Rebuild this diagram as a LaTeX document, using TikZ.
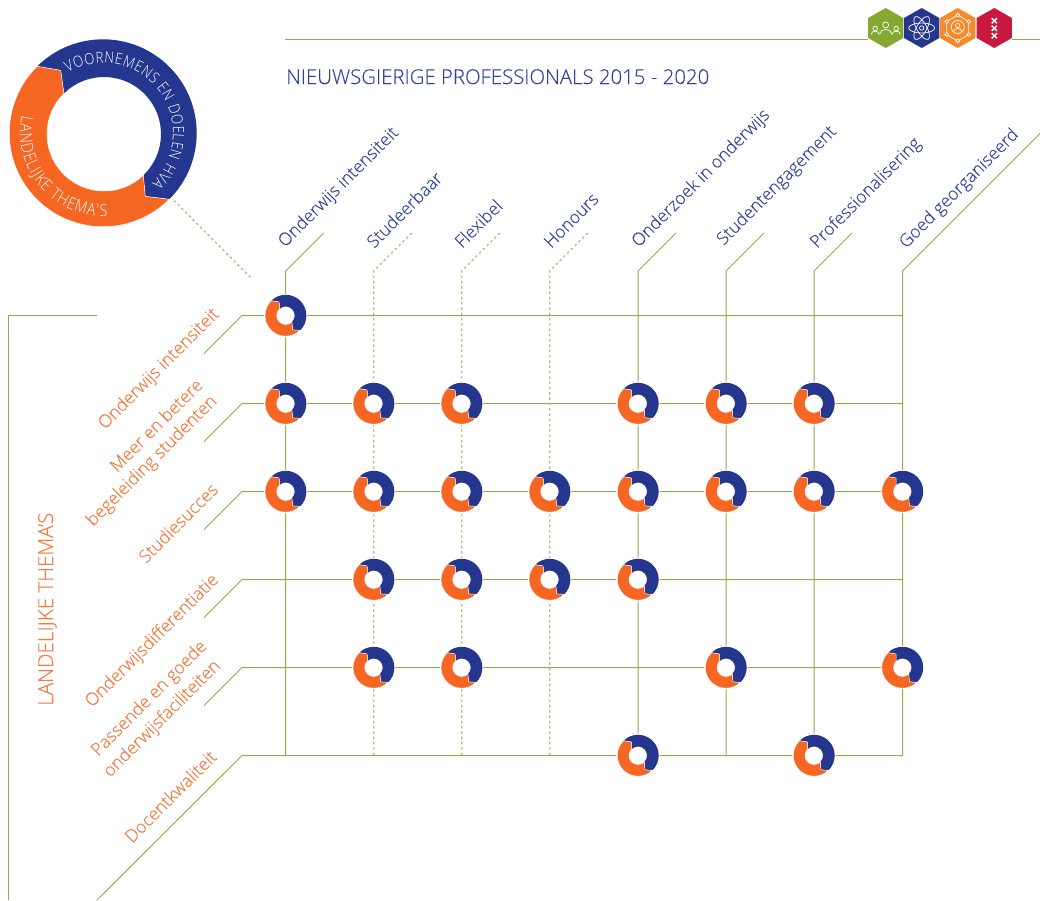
\documentclass[tikz,border=0pt]{standalone}
\usepackage{fontspec}
\setmainfont{Open Sans}[UprightFont={* Light},UprightFeatures={FakeBold=0.1}]
\newfontfamily\ringfont{Open Sans}[UprightFont={* Light},FakeStretch=0.86]
\usetikzlibrary{decorations.text,calc}
\definecolor{hblue}{HTML}{25368F}
\definecolor{horange}{HTML}{F56623}
\definecolor{lgreen}{HTML}{8FAF48}
\definecolor{dgreen}{HTML}{A6C06E}
\definecolor{tblue}{HTML}{34439A}
\definecolor{torange}{HTML}{F57A42}
\definecolor{hexgreen}{HTML}{85A832}
\definecolor{hexorange}{HTML}{F58A2B}
\definecolor{hexred}{HTML}{C8193F}
\tikzset{
  x=1pt,y=1pt,
  gridline/.style={draw=lgreen,line width=1pt},
  dotline/.style={draw=dgreen,line width=1.3pt,dash pattern=on 2.4pt off 2.9pt},
  collabel/.style={text=tblue,font=\fontsize{17.5}{17.5}\selectfont,rotate=45,anchor=base west,inner sep=0pt},
  rowlabel/.style={text=torange,font=\fontsize{17.6}{17.6}\selectfont,rotate=45,anchor=base west,inner sep=0pt},
  iconline/.style={draw=white,line width=.7pt},
  minidonut/.pic={
    \fill[white] (0,0) circle (21.6);
    \fill[hblue] (134:20.7) arc[start angle=134,end angle=-46,radius=20.7]
       -- (7,-14.3) -- (-46:9) arc[start angle=-46,end angle=134,radius=9]
       -- (-6.5,13.5) -- cycle;
    \fill[horange,draw=white,line width=.5pt] (134:20.7) arc[start angle=134,end angle=314,radius=20.7]
       -- (7,-14.3) -- (-46:9) arc[start angle=314,end angle=134,radius=9]
       -- (-6.5,13.5) -- cycle;
  }
}
\begin{document}
\begin{tikzpicture}
\useasboundingbox (0,0) rectangle (1040,-900);
% grid coordinates
\foreach \n/\xx in {1/285.7,2/373.7,3/461.7,4/549.7,5/638,6/726,7/814,8/902.5}{
  \coordinate (c\n) at (\xx,-271);
  \coordinate (ct\n) at (\xx+38,-233);
}
\coordinate (ct8) at (1040,-133.5);
\foreach \n/\yy in {1/315.5,2/403.5,3/491.5,4/579.5,5/667.5,6/755.5}{
  \coordinate (r\n) at (242,-\yy);
  \coordinate (rt\n) at (204,-\yy-38);
}
\coordinate (rt6) at (97,-900);
% top rule
\coordinate (ta) at (285,-39); \coordinate (tb) at (868,-39);
\coordinate (tc) at (1012,-39); \coordinate (td) at (1040,-39);
\draw[gridline] (ta) -- (tb) (tc) -- (td);
% left bracket
\coordinate (la) at (97,-315.5); \coordinate (lb) at (8.5,-315.5); \coordinate (lc) at (8.5,-900);
\draw[gridline] (la) -- (lb) -- (lc);
% rows
\foreach \n in {1,...,6}{ \draw[gridline] (rt\n) -- (r\n) -- (r\n -| c8); }
% columns
\foreach \n in {2,3,4}{ \draw[dotline] (ct\n) -- (c\n) -- (c\n |- r6); }
\foreach \n in {1,5,6,7,8}{ \draw[gridline] (ct\n) -- (c\n) -- (c\n |- r6); }
% big ring
\coordinate (ring) at (103,-133);
\coordinate (la1) at (174,-200.5); \coordinate (la2) at (252,-279);
\draw[dotline] (la1) -- (la2);
\begin{scope}[shift={(ring)}]
\fill[hblue] (134.6:93.7) arc[start angle=134.6,end angle=-45,radius=93.7]
  -- (42.3,-63.3) -- (40.3,-42.3) arc[start angle=-46.4,end angle=134.6,radius=57]
  -- (-42.3,62.7) -- cycle;
\fill[horange,draw=white,line width=.5pt] (134.6:93.7) arc[start angle=134.6,end angle=315,radius=93.7]
  -- (42.3,-63.3) -- (40.3,-42.3) arc[start angle=313.6,end angle=134.6,radius=57]
  -- (-42.3,62.7) -- cycle;
\path[decorate,decoration={text along path,text align=fit to path,
  text={|\ringfont\fontsize{15.4}{15.4}\selectfont\color{white}|VOORNEMENS EN DOELEN HVA}}]
  (120:70) arc[start angle=120,end angle=-46,radius=70];
\path[decorate,decoration={text along path,text align=fit to path,
  text={|\ringfont\fontsize{16.6}{16.6}\selectfont\color{white}|LANDELIJKE THEMA'S}}]
  (168:83) arc[start angle=168,end angle=273,radius=83];
\end{scope}
% title
\node[text=tblue,font=\fontsize{20.4}{20.4}\selectfont,anchor=base west,inner sep=0pt] (title) at (286,-84) {NIEUWSGIERIGE PROFESSIONALS 2015 - 2020};
% hexagons
\foreach \nm/\xx/\cc in {hg/885.7/hexgreen,hb/921.7/hblue,ho/957.7/hexorange,hr/994.3/hexred}{
  \fill[\cc] (\xx,-8) -- (\xx+17.6,-18) -- (\xx+17.6,-38) -- (\xx,-48) -- (\xx-17.6,-38) -- (\xx-17.6,-18) -- cycle;
}
% green icon: three persons
\begin{scope}[shift={(885.7,-28)},iconline]
  \draw (0,3) circle (3);
  \draw (-6,-6) .. controls (-6,0) and (6,0) .. (6,-6);
  \draw (-10.5,-0.5) circle (2.3);
  \draw (10.5,-0.5) circle (2.3);
  \draw (-14.5,-6.5) .. controls (-14.5,-2) and (-6.5,-2) .. (-6.5,-6.5);
  \draw (14.5,-6.5) .. controls (14.5,-2) and (6.5,-2) .. (6.5,-6.5);
\end{scope}
% blue icon: atom
\begin{scope}[shift={(921.7,-28)},iconline]
  \draw (0,0) ellipse (13 and 5);
  \draw[rotate=60] (0,0) ellipse (13 and 5);
  \draw[rotate=120] (0,0) ellipse (13 and 5);
  \draw (0,0) circle (2.2);
\end{scope}
% orange icon: network
\begin{scope}[shift={(957.7,-28)},iconline]
  \draw (0,13) -- (11,6.5) -- (11,-6.5) -- (0,-13) -- (-11,-6.5) -- (-11,6.5) -- cycle;
  \foreach \p in {(0,13),(11,6.5),(11,-6.5),(0,-13),(-11,-6.5),(-11,6.5)}{ \filldraw[fill=hexorange] \p circle (1.8); }
  \draw (0,1) circle (6.5);
  \draw (0,2.5) circle (2.2);
  \draw (-4.3,-3.5) .. controls (-3,0.5) and (3,0.5) .. (4.3,-3.5);
\end{scope}
% red icon: three crosses
\begin{scope}[shift={(994.3,-28.3)}]
  \foreach \yy in {7.6,0,-7.4}{
    \draw[white,line width=1.4pt] (-2.6,\yy-2.6) -- (2.6,\yy+2.6) (-2.6,\yy+2.6) -- (2.6,\yy-2.6);
  }
\end{scope}
% column labels
\node[collabel] (l1) at (285,-248) {Onderwijs intensiteit};
\node[collabel] (l2) at (374,-249) {Studeerbaar};
\node[collabel] (l3) at (462,-249) {Flexibel};
\node[collabel] (l4) at (551,-249) {Honours};
\node[collabel] (l5) at (638.5,-248) {Onderzoek in onderwijs};
\node[collabel] (l6) at (723.5,-246) {Studentengagement};
\node[collabel] (l7) at (817,-249) {Professionalisering};
\node[collabel] (l8) at (906,-249) {Goed georganiseerd};
% row labels
\node[rowlabel] (m1) at (105,-430) {Onderwijs intensiteit};
\node[rowlabel] (m2a) at (117,-473) {Meer en betere};
\node[rowlabel] (m2b) at (93,-527) {begeleiding studenten};
\node[rowlabel] (m3) at (146,-564) {Studiesucces};
\node[rowlabel] (m4) at (92,-708) {Onderwijsdifferentiatie};
\node[rowlabel] (m5a) at (98,-757) {Passende en goede};
\node[rowlabel] (m5b) at (110,-778) {onderwijsfaciliteiten};
\node[rowlabel] (m6) at (132,-844) {Docentkwaliteit};
\node[text=torange,font=\fontsize{20.6}{20.6}\selectfont,rotate=90,anchor=base west,inner sep=0pt] (side) at (53,-706) {LANDELIJKE THEMA'S};
% donuts
\foreach \cc/\rr in {1/1,
  1/2,2/2,3/2,5/2,6/2,7/2,
  1/3,2/3,3/3,4/3,5/3,6/3,7/3,8/3,
  2/4,3/4,4/4,5/4,
  2/5,3/5,6/5,8/5,
  5/6,7/6}{
  \pic at (c\cc |- r\rr) {minidonut};
}
\end{tikzpicture}
\end{document}
